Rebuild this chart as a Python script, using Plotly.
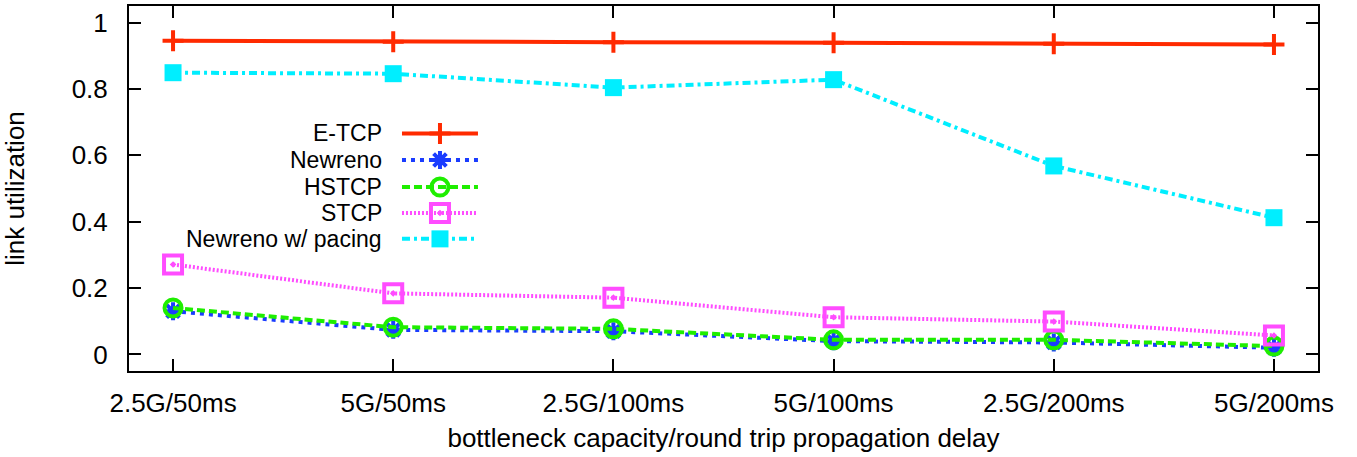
import plotly.graph_objects as go

# ---------------- data ----------------
categories = ["2.5G/50ms", "5G/50ms", "2.5G/100ms", "5G/100ms", "2.5G/200ms", "5G/200ms"]
etcp = [0.945, 0.942, 0.941, 0.939, 0.936, 0.934]
newreno = [0.130, 0.074, 0.070, 0.040, 0.036, 0.020]
hstcp = [0.140, 0.082, 0.077, 0.044, 0.044, 0.025]
stcp = [0.271, 0.184, 0.171, 0.112, 0.099, 0.057]
pacing = [0.849, 0.846, 0.804, 0.828, 0.568, 0.412]
series_names = ["E-TCP", "Newreno", "HSTCP", "STCP", "Newreno w/ pacing"]
y_ticks = [0, 0.2, 0.4, 0.6, 0.8, 1]

# ---------------- styles ----------------
styles = [
    dict(color="#ff2a00", dash="solid", width=4, symbol="cross-thin-open", size=15, mlw=4),
    dict(color="#1a3cff", dash="4px,5px", width=4, symbol="asterisk-open", size=15, mlw=4),
    dict(color="#1fee00", dash="8px,4px", width=4, symbol="circle-open", size=17, mlw=4),
    dict(color="#ff4cff", dash="2px,2px", width=4, symbol="square-open-dot", size=18, mlw=4),
    dict(color="#00eeff", dash="8px,4px,3px,4px", width=4, symbol="square", size=17, mlw=0),
]
all_series = [etcp, newreno, hstcp, stcp, pacing]

FONT = "Liberation Sans, Arial, Helvetica, sans-serif"
FS = 26
LEG_FS = 23
W, H = 1357, 457
ML, MR, MT, MB = 129, 39, 4, 86

fig = go.Figure()
xidx = list(range(len(categories)))
for name, ys, st in zip(series_names, all_series, styles):
    fig.add_trace(go.Scatter(
        x=xidx, y=ys, mode="lines+markers", name=name, showlegend=False,
        line=dict(color=st["color"], dash=st["dash"], width=st["width"]),
        marker=dict(symbol=st["symbol"], size=st["size"], color=st["color"],
                    line=dict(color=st["color"], width=st["mlw"])),
    ))

# ---------------- manual legend (key on right of text, gnuplot style) ----------------
leg_x0, leg_x1, leg_text_x = 0.2296, 0.2935, 0.2136
leg_rows = [0.651, 0.578, 0.504, 0.433, 0.362]
for name, st, ly in zip(series_names, styles, leg_rows):
    fig.add_trace(go.Scatter(
        x=[leg_x0, leg_x1], y=[ly, ly], mode="lines", xaxis="x2", yaxis="y2",
        showlegend=False, hoverinfo="skip",
        line=dict(color=st["color"], dash=st["dash"], width=st["width"]),
    ))
    fig.add_trace(go.Scatter(
        x=[(leg_x0 + leg_x1) / 2], y=[ly], mode="markers", xaxis="x2", yaxis="y2",
        showlegend=False, hoverinfo="skip",
        marker=dict(symbol=st["symbol"], size=st["size"], color=st["color"],
                    line=dict(color=st["color"], width=st["mlw"])),
    ))
    fig.add_annotation(x=leg_text_x, y=ly, xref="x2", yref="y2", text=name,
                       showarrow=False, xanchor="right", yanchor="middle",
                       borderpad=0,
                       font=dict(family=FONT, size=LEG_FS, color="black"))

axis_common = dict(showgrid=False, zeroline=False, showline=True, linecolor="black",
                   linewidth=2, ticks="inside", ticklen=12, tickwidth=2, tickcolor="black",
                   mirror="ticks", tickfont=dict(family=FONT, size=FS, color="black"))

fig.update_layout(
    width=W, height=H,
    margin=dict(l=ML, r=MR, t=MT, b=MB),
    paper_bgcolor="white", plot_bgcolor="white",
    showlegend=False,
    xaxis=dict(range=[-0.2, 5.2], tickmode="array", tickvals=xidx, ticktext=categories,
               ticklabelstandoff=8,
               title=dict(text="bottleneck capacity/round trip propagation delay",
                          font=dict(family=FONT, size=FS, color="black"), standoff=12),
               **axis_common),
    yaxis=dict(range=[-0.05, 1.05], tickmode="array", tickvals=y_ticks,
               ticktext=[f"{v:g}" for v in y_ticks], ticklabelstandoff=14,
               title=dict(text="link utilization",
                          font=dict(family=FONT, size=FS, color="black"), standoff=40),
               **axis_common),
    xaxis2=dict(range=[0, 1], overlaying="x", visible=False, fixedrange=True),
    yaxis2=dict(range=[0, 1], overlaying="y", visible=False, fixedrange=True),
)

fig.write_html("out.html")
